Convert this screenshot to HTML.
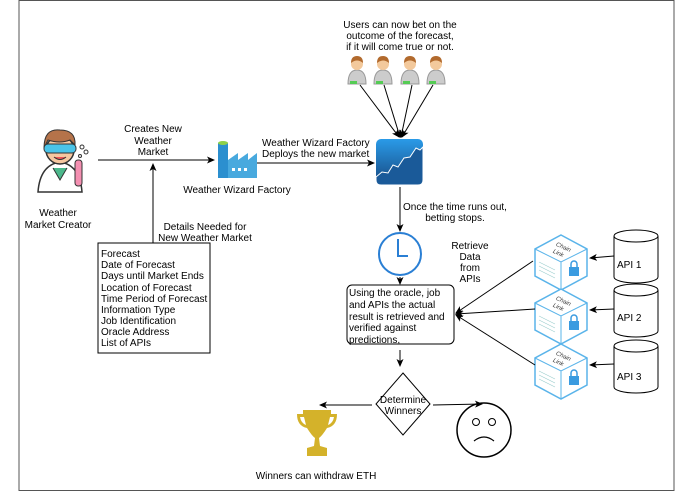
<!DOCTYPE html>
<html><head><style>body{margin:0;background:#fff}svg{display:block;font-family:"Liberation Sans",sans-serif}</style></head><body>
<svg width="695" height="494" viewBox="0 0 695 494">
<defs><marker id="a" markerWidth="8" markerHeight="8" refX="7" refY="4" orient="auto" markerUnits="userSpaceOnUse"><path d="M0,0.5 L8,4 L0,7.5 L2,4z" fill="#000"/></marker></defs>
<rect x="19" y="0.5" width="655" height="490" fill="none" stroke="#555" stroke-width="1"/>
<path d="M403,373 L430,404 L403,435 L376,404z" fill="#fff" stroke="#000"/>
<g font-size="10" fill="#000" text-anchor="middle">
<text x="58" y="216">Weather</text><text x="58" y="228">Market Creator</text>
<text x="153" y="132">Creates New</text><text x="153" y="144">Weather</text><text x="153" y="155">Market</text>
<text x="205" y="230">Details Needed for</text><text x="205" y="241">New Weather Market</text>
<text x="237" y="193">Weather Wizard Factory</text>
<text x="400" y="28">Users can now bet on the</text><text x="400" y="39">outcome of the forecast,</text><text x="400" y="50">if it will come true or not.</text>
<text x="455" y="210">Once the time runs out,</text><text x="455" y="221">betting stops.</text>
<text x="470" y="249">Retrieve</text><text x="470" y="260">Data</text><text x="470" y="271">from</text><text x="470" y="282">APIs</text>
<text x="403" y="403">Determine</text><text x="403" y="414">Winners</text>
<text x="316" y="479">Winners can withdraw ETH</text>
</g>
<g font-size="10"><text x="262" y="146">Weather Wizard Factory</text><text x="262" y="157">Deploys the new market</text></g>
<g>
<path d="M38,192 Q40,165 60,162 Q80,165 82,192z" fill="#fff" stroke="#333" stroke-width="1.5"/>
<path d="M53,168 L60,180 L67,168" fill="#4cb88c" stroke="#333"/>
<circle cx="60" cy="150" r="14" fill="#f6c7a0" stroke="#333" stroke-width="1.5"/>
<path d="M44,148 Q44,128 60,130 Q76,130 75,145 L70,140 Q60,144 48,140z" fill="#b5734a" stroke="#333"/>
<rect x="44" y="144" width="32" height="9" rx="4" fill="#4ac4e8" stroke="#333"/>
<path d="M54,157 Q60,162 66,157" fill="#e55" stroke="#333"/>
<rect x="75" y="160" width="7" height="26" rx="3" fill="#f48fb1" stroke="#333"/>
<circle cx="82" cy="147" r="2" fill="none" stroke="#333"/><circle cx="86" cy="152" r="2" fill="none" stroke="#333"/><circle cx="80" cy="156" r="1.5" fill="none" stroke="#333"/>
</g>
<line x1="98" y1="160" x2="214" y2="160" stroke="#000" marker-end="url(#a)"/>
<line x1="153" y1="243" x2="153" y2="164" stroke="#000" marker-end="url(#a)"/>
<rect x="98" y="243" width="112" height="110" fill="#fff" stroke="#000"/>
<g font-size="10"><text x="101" y="257">Forecast</text><text x="101" y="268">Date of Forecast</text><text x="101" y="279">Days until Market Ends</text><text x="101" y="291">Location of Forecast</text><text x="101" y="302">Time Period of Forecast</text><text x="101" y="313">Information Type</text><text x="101" y="324">Job Identification</text><text x="101" y="335">Oracle Address</text><text x="101" y="346">List of APIs</text></g>
<g><rect x="218" y="143" width="10" height="35" fill="#2b8fcf"/><ellipse cx="223" cy="143" rx="5" ry="2" fill="#8dd04a"/><path d="M228,178 L228,160 L238,153 L238,160 L248,153 L248,160 L257,153 L257,178z" fill="#48a9de"/><rect x="232" y="168" width="3" height="3" fill="#fff"/><rect x="238" y="168" width="3" height="3" fill="#fff"/><rect x="244" y="168" width="3" height="3" fill="#fff"/></g>
<line x1="257" y1="163" x2="374" y2="163" stroke="#000" marker-end="url(#a)"/>
<defs><linearGradient id="g" x1="0" y1="0" x2="0" y2="1"><stop offset="0" stop-color="#2a9be8"/><stop offset="1" stop-color="#17477f"/></linearGradient></defs>
<rect x="376" y="139" width="47" height="46" rx="5" fill="url(#g)"/>
<path d="M376,177 L382,172 L388,173 L393,165 L398,167 L404,158 L410,157 L416,148 L420,150 L423,147 L423,180 Q423,185 418,185 L381,185 Q376,185 376,180z" fill="#1a5a99" stroke="#fff" stroke-width="1"/>
<g id="u"><path d="M348,84 Q348,70 357,70 Q366,70 366,84z" fill="#ccc" stroke="#999"/><circle cx="357" cy="64" r="6" fill="#f3c99c"/><path d="M351,63 Q351,56 357,56 Q363,56 363,63 Q357,58 351,63z" fill="#b26a2d"/><rect x="350" y="81" width="7" height="3" fill="#5c5"/></g>
<use href="#u" x="26"/><use href="#u" x="53"/><use href="#u" x="79"/>
<g stroke="#000" marker-end="url(#a)"><line x1="360" y1="85" x2="399" y2="137"/><line x1="384" y1="85" x2="400" y2="137"/><line x1="412" y1="85" x2="401" y2="137"/><line x1="433" y1="85" x2="402" y2="137"/></g>
<line x1="400" y1="187" x2="400" y2="231" stroke="#000" marker-end="url(#a)"/>
<circle cx="400" cy="254" r="21" fill="#fff" stroke="#2a7fd4" stroke-width="2"/>
<path d="M398,239 L398,256 L408,256" fill="none" stroke="#2a7fd4" stroke-width="2"/>
<line x1="400" y1="277" x2="400" y2="284" stroke="#000" marker-end="url(#a)"/>
<rect x="347" y="285" width="107" height="59" rx="5" fill="#fff" stroke="#000"/>
<g font-size="10"><text x="349" y="296">Using the oracle, job</text><text x="349" y="308">and APIs the actual</text><text x="349" y="320">result is retrieved and</text><text x="349" y="331">verified against</text><text x="349" y="343">predictions,</text></g>
<line x1="400" y1="350" x2="400" y2="366" stroke="#000" marker-end="url(#a)"/>
<line x1="372" y1="405" x2="320" y2="405" stroke="#000" marker-end="url(#a)"/>
<path d="M303,410 L331,410 L331,414 L337,414 Q337,426 327,428 Q322,436 319,438 L320,446 L327,448 L327,456 L307,456 L307,448 L314,446 L315,438 Q312,436 307,428 Q297,426 297,414 L303,414z M300,417 Q301,423 306,425 L304,417z M334,417 Q333,423 328,425 L330,417z" fill="#d4b22a" fill-rule="evenodd"/>
<circle cx="484" cy="430" r="27" fill="#fff" stroke="#000" stroke-width="1.5"/>
<circle cx="476" cy="422" r="3.5" fill="none" stroke="#000"/><circle cx="492" cy="422" r="3.5" fill="none" stroke="#000"/>
<path d="M474,441 Q484,433 494,441" fill="none" stroke="#000" stroke-width="1.2"/>
<line x1="433" y1="405" x2="482" y2="404" stroke="#000" marker-end="url(#a)"/>
<g id="c"><path d="M561,235 L587,249 L587,276 L561,290 L535,276 L535,249z" fill="#fff" stroke="#5ab4ea" stroke-width="1.5"/><path d="M535,249 L561,262 L587,249 M561,262 L561,290" fill="none" stroke="#5ab4ea"/><g stroke="#9cc" stroke-width="0.6"><line x1="539" y1="262" x2="555" y2="270"/><line x1="539" y1="266" x2="555" y2="274"/><line x1="539" y1="270" x2="555" y2="278"/></g><rect x="569" y="267" width="10" height="9" fill="#3a9be0"/><path d="M571,267 v-3 a3,3 0 0 1 6,0 v3" fill="none" stroke="#3a9be0" stroke-width="1.5"/><text x="555" y="248" font-size="6" font-style="italic" fill="#333" transform="rotate(25 561 248)">Chain</text><text x="552" y="255" font-size="6" font-style="italic" fill="#333" transform="rotate(25 558 255)">Link</text></g>
<use href="#c" y="54"/><use href="#c" y="109"/>
<g id="d"><path d="M614,236 L614,277 A22,6 0 0 0 658,277 L658,236" fill="#fff" stroke="#000"/><ellipse cx="636" cy="236" rx="22" ry="6" fill="#fff" stroke="#000"/></g>
<use href="#d" y="54"/><use href="#d" y="110"/>
<g font-size="10"><text x="617" y="268">API 1</text><text x="617" y="321">API 2</text><text x="617" y="380">API 3</text></g>
<g stroke="#000" marker-end="url(#a)"><line x1="614" y1="256" x2="590" y2="258"/><line x1="614" y1="309" x2="590" y2="310"/><line x1="614" y1="364" x2="590" y2="365"/>
<line x1="533" y1="261" x2="456" y2="313"/><line x1="535" y1="309" x2="456" y2="314"/><line x1="535" y1="365" x2="456" y2="315"/></g>
</svg></body></html>
